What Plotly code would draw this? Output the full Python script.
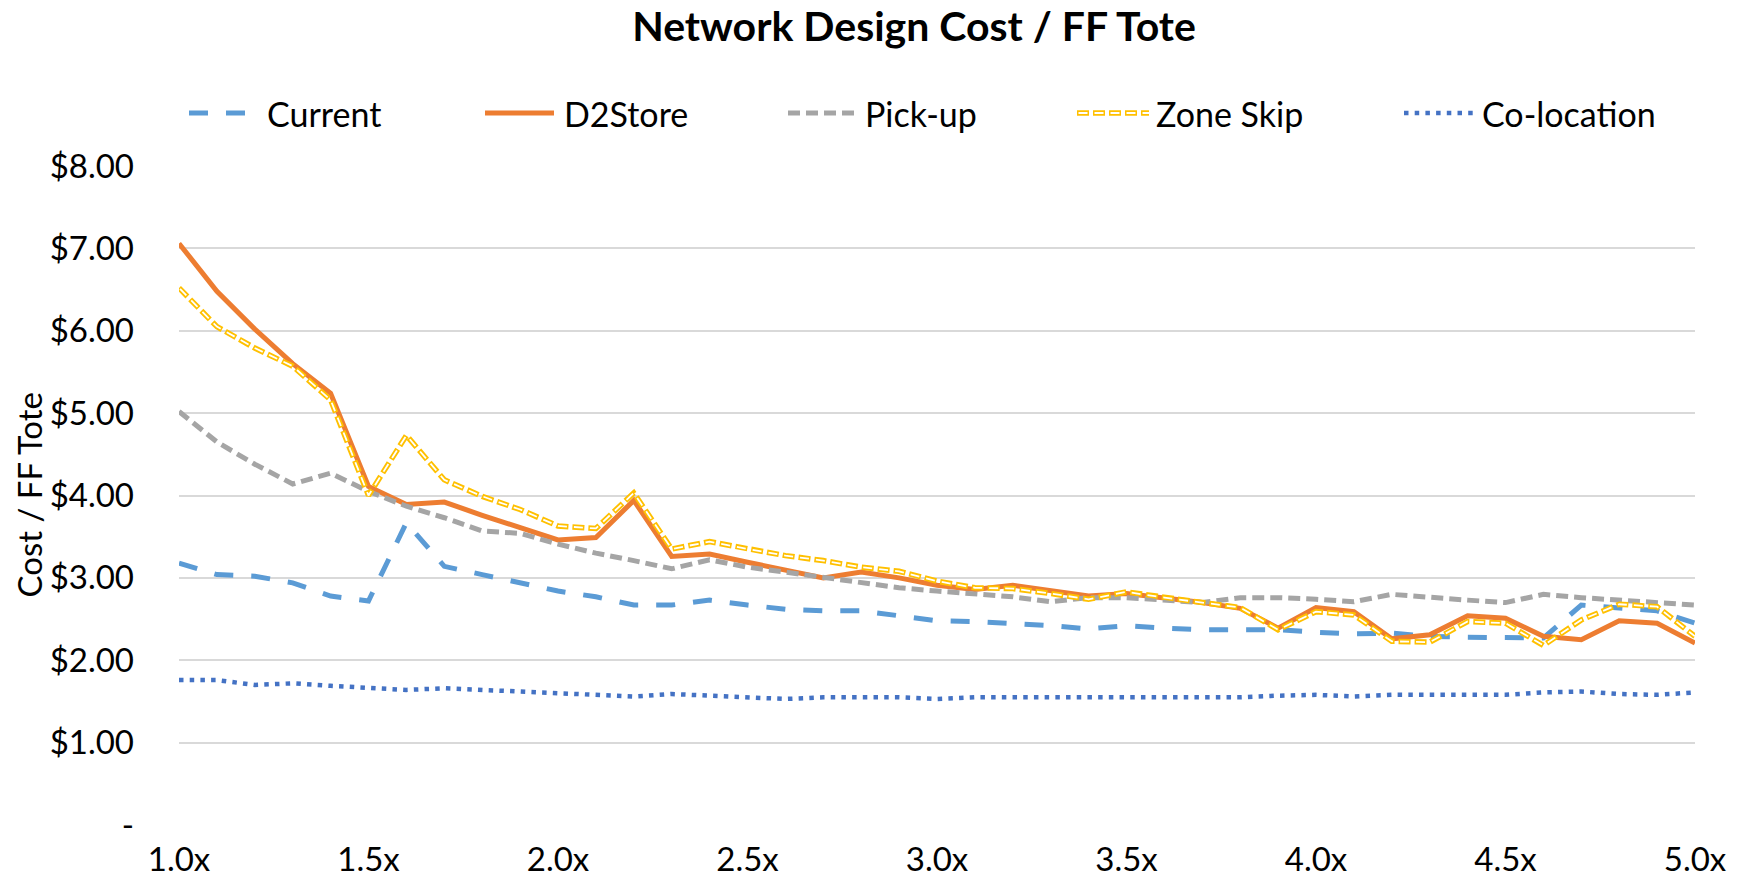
import plotly.graph_objects as go

# ---------------- data ----------------
x_mult = [1.0, 1.1, 1.2, 1.3, 1.4, 1.5, 1.6, 1.7, 1.8, 1.9,
          2.0, 2.1, 2.2, 2.3, 2.4, 2.5, 2.6, 2.7, 2.8, 2.9,
          3.0, 3.1, 3.2, 3.3, 3.4, 3.5, 3.6, 3.7, 3.8, 3.9,
          4.0, 4.1, 4.2, 4.3, 4.4, 4.5, 4.6, 4.7, 4.8, 4.9, 5.0]

current = [3.18, 3.04, 3.02, 2.94, 2.78, 2.72, 3.67, 3.14, 3.04, 2.94,
           2.84, 2.77, 2.67, 2.67, 2.73, 2.67, 2.62, 2.60, 2.60, 2.54,
           2.48, 2.47, 2.45, 2.42, 2.38, 2.42, 2.39, 2.37, 2.37, 2.37,
           2.34, 2.32, 2.33, 2.29, 2.28, 2.28, 2.27, 2.67, 2.64, 2.60, 2.45]

d2store = [7.06, 6.48, 6.02, 5.60, 5.24, 4.11, 3.89, 3.92, 3.76, 3.61,
           3.46, 3.49, 3.94, 3.26, 3.29, 3.19, 3.09, 3.00, 3.07, 3.00,
           2.91, 2.86, 2.91, 2.85, 2.78, 2.81, 2.76, 2.70, 2.63, 2.39,
           2.64, 2.59, 2.26, 2.31, 2.54, 2.51, 2.29, 2.25, 2.48, 2.45, 2.21]

pickup = [5.02, 4.65, 4.38, 4.14, 4.27, 4.05, 3.87, 3.73, 3.57, 3.54,
          3.41, 3.30, 3.21, 3.11, 3.22, 3.13, 3.07, 3.01, 2.94, 2.88,
          2.84, 2.81, 2.77, 2.71, 2.76, 2.76, 2.73, 2.70, 2.76, 2.76,
          2.74, 2.71, 2.80, 2.76, 2.73, 2.70, 2.80, 2.76, 2.73, 2.70, 2.67]

zone_skip = [6.52, 6.05, 5.79, 5.57, 5.16, 4.00, 4.73, 4.19, 3.99, 3.83,
             3.63, 3.60, 4.03, 3.35, 3.44, 3.35, 3.27, 3.21, 3.13, 3.08,
             2.96, 2.88, 2.87, 2.81, 2.74, 2.83, 2.76, 2.70, 2.64, 2.37,
             2.59, 2.55, 2.23, 2.22, 2.47, 2.45, 2.18, 2.49, 2.68, 2.65, 2.29]

colocation = [1.76, 1.76, 1.70, 1.72, 1.69, 1.66, 1.64, 1.66, 1.64, 1.62,
              1.60, 1.57, 1.56, 1.59, 1.57, 1.55, 1.53, 1.55, 1.55, 1.55,
              1.53, 1.55, 1.55, 1.55, 1.55, 1.55, 1.55, 1.55, 1.55, 1.57,
              1.58, 1.56, 1.58, 1.58, 1.58, 1.58, 1.61, 1.62, 1.59, 1.58, 1.61]

series_names = ["Current", "D2Store", "Pick-up", "Zone Skip", "Co-location"]

x_tick_vals = [1.0, 1.5, 2.0, 2.5, 3.0, 3.5, 4.0, 4.5, 5.0]
x_tick_text = ["1.0x", "1.5x", "2.0x", "2.5x", "3.0x", "3.5x", "4.0x", "4.5x", "5.0x"]
y_tick_vals = [0, 1, 2, 3, 4, 5, 6, 7, 8]
y_tick_text = ["-", "$1.00", "$2.00", "$3.00", "$4.00", "$5.00", "$6.00", "$7.00", "$8.00"]

chart_title = "Network Design Cost / FF Tote"
y_title = "Cost / FF Tote"

# ---------------- layout geometry ----------------
# the page body has an 8px margin, so the figure is drawn 8px in from the window corner
PAGE_W, PAGE_H, OFF = 1750, 878, 8
W, H = PAGE_W - OFF, PAGE_H - OFF
PLOT_X0, PLOT_X1, PLOT_Y0, PLOT_Y1 = 179, 1695, 166, 825   # plot area in window pixels
L, R = PLOT_X0 - OFF, W - (PLOT_X1 - OFF)
T, B = PLOT_Y0 - OFF, H - (PLOT_Y1 - OFF)
PW, PH = W - L - R, H - T - B
FONT = "Lato"

styles = {
    "Current":     dict(color="#5B9BD5", width=5, dash="19px,18px"),
    "D2Store":     dict(color="#ED7D31", width=5, dash="solid"),
    "Pick-up":     dict(color="#A5A5A5", width=5, dash="12px,6px"),
    "Zone Skip":   dict(color="#FFC000", width=5.5, dash="12px,4px"),
    "Co-location": dict(color="#4472C4", width=4.5, dash="4.5px,6.2px"),
}
zone_inner = dict(color="#FFFFFF", width=1.8, dash="0px,1.5px,9px,5.5px")

series_values = {
    "Current": current,
    "D2Store": d2store,
    "Pick-up": pickup,
    "Zone Skip": zone_skip,
    "Co-location": colocation,
}

fig = go.Figure()
for name in series_names:
    fig.add_trace(go.Scatter(x=x_mult, y=series_values[name], mode="lines",
                             name=name, line=styles[name], showlegend=False,
                             hoverinfo="x+y+name"))
    if name == "Zone Skip":
        fig.add_trace(go.Scatter(x=x_mult, y=series_values[name], mode="lines",
                                 name=name, line=zone_inner, showlegend=False,
                                 hoverinfo="skip"))


def px_x(px):
    """window pixel x -> paper coordinate"""
    return (px - OFF - L) / PW


def px_y(py):
    """window pixel y -> paper coordinate"""
    return (H - B - (py - OFF)) / PH


# manual legend (sample line + label) placed like the original
legend_y = 113
legend_layout = {
    "Current": (189, 258, 265),
    "D2Store": (485, 554, 562),
    "Pick-up": (788, 857, 863),
    "Zone Skip": (1077, 1149, 1154),
    "Co-location": (1404, 1473, 1480),
}
shapes = []
annotations = []
for name in series_names:
    x0, x1, tx = legend_layout[name]
    st = styles[name]
    shapes.append(dict(type="line", xref="paper", yref="paper",
                       x0=px_x(x0), x1=px_x(x1), y0=px_y(legend_y), y1=px_y(legend_y),
                       line=dict(color=st["color"], width=st["width"], dash=st["dash"])))
    if name == "Zone Skip":
        shapes.append(dict(type="line", xref="paper", yref="paper",
                           x0=px_x(x0), x1=px_x(x1), y0=px_y(legend_y), y1=px_y(legend_y),
                           line=zone_inner))
    annotations.append(dict(text=name, xref="paper", yref="paper",
                            x=px_x(tx), y=px_y(legend_y), xanchor="left", yanchor="middle",
                            showarrow=False, font=dict(family=FONT, size=34, color="#000000")))

annotations.append(dict(text=y_title, xref="paper", yref="paper",
                        x=px_x(28), y=0.5, xanchor="center", yanchor="middle",
                        textangle=-90, showarrow=False,
                        font=dict(family=FONT, size=33, color="#000000")))

fig.update_layout(
    width=W, height=H,
    margin=dict(l=L, r=R, t=T, b=B, autoexpand=False),
    paper_bgcolor="#FFFFFF", plot_bgcolor="#FFFFFF",
    title=dict(text="<b>" + chart_title + "</b>", x=(914 - OFF) / W, xref="container",
               xanchor="center", y=1 - (27 - OFF) / H, yref="container", yanchor="middle",
               font=dict(family=FONT, size=41, color="#000000")),
    showlegend=False,
    shapes=shapes,
    annotations=annotations,
    font=dict(family=FONT, size=33, color="#000000"),
)

fig.update_xaxes(range=[1.0, 5.0], tickvals=x_tick_vals, ticktext=x_tick_text,
                 showgrid=False, zeroline=False, showline=False, ticks="",
                 ticklabelstandoff=12,
                 tickfont=dict(family=FONT, size=33, color="#000000"))
fig.update_yaxes(range=[0, 8], tickvals=y_tick_vals, ticktext=y_tick_text,
                 showgrid=True, gridcolor="#D9D9D9", gridwidth=2,
                 zeroline=False, showline=False, ticks="",
                 ticklabelstandoff=44,
                 tickfont=dict(family=FONT, size=33, color="#000000"))

fig.write_html("out.html")
